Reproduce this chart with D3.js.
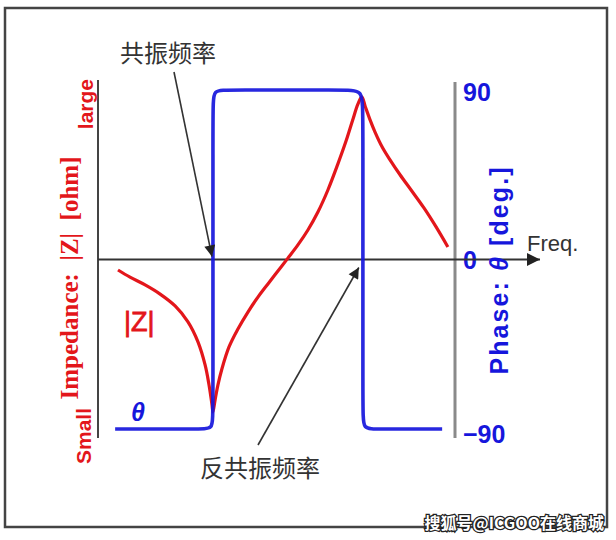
<!DOCTYPE html>
<html lang="zh">
  <head>
    <meta charset="utf-8">
    <title>Impedance / Phase vs Frequency</title>
    <script src="https://cdnjs.cloudflare.com/ajax/libs/d3/7.8.5/d3.min.js"></script>
    <style>
      body { margin: 0; background: #fff; }
      svg { display: block; }
    </style>
  </head>
  <body>
    <div id="chart"></div>

    <script type="text/javascript">

    // |Z| curve (freq in relative units 0..100, |Z| relative 0..100)
    const freqZ = [5.6, 8.96, 13.2, 17.4, 21.6, 25.2, 28.0, 30.0, 31.1, 31.9, 32.2,
                   32.8, 33.6, 34.7, 36.7, 39.2, 42.0, 44.8, 47.6, 50.4, 53.2, 56.0, 58.8,
                   61.6, 64.4, 67.2, 69.5, 71.3, 72.8, 73.9,
                   74.9, 76.1, 77.6, 79.6, 81.8, 84.6, 87.9, 91.3, 94.7, 98.0];
    const impedance = [46.9, 44.8, 42.5, 39.8, 36.3, 31.6, 25.7, 18.9, 13.0, 7.4, 5.0,
                       8.6, 13.0, 17.7, 24.2, 29.5, 34.5, 38.9, 42.8, 46.6, 50.4, 54.3, 58.7,
                       64.0, 70.5, 78.2, 85.0, 91.0, 95.8, 98.0,
                       95.0, 91.5, 87.6, 83.2, 79.4, 75.0, 70.2, 65.2, 59.6, 53.7];

    // phase curve corners (deg)
    const freqP = [4.8, 28.3, 32.2, 32.2, 32.2, 32.2, 36.6, 69.0, 74.2, 74.2, 74.2, 74.2, 78.2, 96.4];
    const phase = [-90, -90, -90, -83, 82, 90, 90, 90, 90, 79, -82, -90, -90, -90];

    const phaseTicks = [90, 0, -90];

    // marked frequencies (resonance / anti-resonance)
    const markFreq = [32.2, 73.9];
    const markText = ['共振频率', '反共振频率'];

    const w = 616, h = 540;
    const red = '#e3161b', blue = '#1616dc';

    const svg = d3.select('#chart').append('svg')
                  .attr('width', w)
                  .attr('height', h);

    // frame
    svg.append('rect')
       .attr('x', 5).attr('y', 8)
       .attr('width', 602).attr('height', 519)
       .attr('fill', '#fff')
       .attr('stroke', '#444')
       .attr('stroke-width', 2.5);

    const xScale = d3.scaleLinear().domain([0, 100]).range([98, 455]);
    const yPhase = d3.scaleLinear().domain([-90, 90]).range([429, 90]);
    const yZ = d3.scaleLinear().domain([0, 100]).range([429, 90]);

    const y0 = yPhase(0);

    // left axis line
    svg.append('line')
       .attr('x1', xScale(0)).attr('x2', xScale(0))
       .attr('y1', yPhase(90) - 10).attr('y2', yPhase(-90) + 9)
       .attr('stroke', '#444').attr('stroke-width', 2);

    // right (phase) axis
    svg.append('line')
       .attr('x1', xScale(100)).attr('x2', xScale(100))
       .attr('y1', yPhase(90) - 8).attr('y2', yPhase(-90) + 9)
       .attr('stroke', '#8a8a8a').attr('stroke-width', 3);

    const pAxis = svg.append('g')
       .attr('transform', 'translate(' + xScale(100) + ',0)')
       .call(d3.axisRight(yPhase).tickValues(phaseTicks).tickSize(0).tickPadding(8));
    pAxis.select('.domain').remove();
    pAxis.selectAll('text')
       .attr('fill', blue)
       .attr('font-family', 'Liberation Sans, Arial, sans-serif')
       .attr('font-weight', 'bold')
       .attr('font-size', 25)
       .attr('dy', (d) => d === -90 ? '0.55em' : d === 90 ? '0.42em' : '0.36em');

    // freq axis with arrow
    svg.append('defs').append('marker')
       .attr('id', 'arr')
       .attr('viewBox', '0 0 10 10')
       .attr('refX', 10).attr('refY', 5)
       .attr('markerWidth', 16).attr('markerHeight', 13)
       .attr('markerUnits', 'userSpaceOnUse')
       .attr('orient', 'auto')
       .append('path').attr('d', 'M0,0 L10,5 L0,10 z').attr('fill', '#222');

    svg.append('line')
       .attr('x1', xScale(0)).attr('x2', 540)
       .attr('y1', y0).attr('y2', y0)
       .attr('stroke', '#333').attr('stroke-width', 2)
       .attr('marker-end', 'url(#arr)');

    svg.append('text')
       .attr('x', 527).attr('y', 251)
       .attr('font-family', 'Liberation Sans, Arial, sans-serif')
       .attr('font-size', 22)
       .attr('fill', '#333')
       .text('Freq.');

    // curves
    const zLine = d3.line()
        .x((d, i) => xScale(freqZ[i]))
        .y((d) => yZ(d))
        .curve(d3.curveCatmullRom.alpha(0.5));

    svg.append('path')
       .datum(impedance)
       .attr('d', zLine)
       .attr('fill', 'none')
       .attr('stroke', red)
       .attr('stroke-width', 3.2);

    const pLine = d3.line()
        .x((d, i) => xScale(freqP[i]))
        .y((d) => yPhase(d))
        .curve(d3.curveBasis);

    svg.append('path')
       .datum(phase)
       .attr('d', pLine)
       .attr('fill', 'none')
       .attr('stroke', blue)
       .attr('stroke-width', 3.6)
       .attr('stroke-opacity', 0.92);

    // annotation arrows
    svg.append('defs').append('marker')
       .attr('id', 'arr2')
       .attr('viewBox', '0 0 10 10')
       .attr('refX', 10).attr('refY', 5)
       .attr('markerWidth', 15).attr('markerHeight', 11)
       .attr('markerUnits', 'userSpaceOnUse')
       .attr('orient', 'auto')
       .append('path').attr('d', 'M0,0 L10,5 L0,10 z').attr('fill', '#222');

    svg.append('line')
       .attr('x1', 174).attr('y1', 72)
       .attr('x2', xScale(markFreq[0]) - 1).attr('y2', y0 - 3)
       .attr('stroke', '#333').attr('stroke-width', 1.6)
       .attr('marker-end', 'url(#arr2)');

    svg.append('line')
       .attr('x1', 258).attr('y1', 445)
       .attr('x2', xScale(markFreq[1]) - 3).attr('y2', y0 + 8)
       .attr('stroke', '#333').attr('stroke-width', 1.6)
       .attr('marker-end', 'url(#arr2)');

    svg.append('text')
       .attr('x', 168).attr('y', 62)
       .attr('text-anchor', 'middle')
       .attr('font-family', 'Noto Sans CJK SC, sans-serif')
       .attr('font-size', 24)
       .attr('fill', '#333')
       .text(markText[0]);

    svg.append('text')
       .attr('x', 260).attr('y', 477)
       .attr('text-anchor', 'middle')
       .attr('font-family', 'Noto Sans CJK SC, sans-serif')
       .attr('font-size', 24)
       .attr('fill', '#333')
       .text(markText[1]);

    // curve labels
    svg.append('text')
       .attr('x', 124).attr('y', 331)
       .attr('font-family', 'Liberation Sans, Arial, sans-serif')
       .attr('font-size', 27)
       .attr('fill', red)
       .attr('stroke', red)
       .attr('stroke-width', 0.8)
       .text('|Z|');

    svg.append('text')
       .attr('x', 131).attr('y', 421)
       .attr('font-family', 'Liberation Sans, Arial, sans-serif')
       .attr('font-style', 'italic')
       .attr('font-weight', 'bold')
       .attr('font-size', 25)
       .attr('fill', blue)
       .text('θ');

    // left (impedance) label
    svg.append('text')
       .attr('transform', 'translate(78,278) rotate(-90)')
       .attr('text-anchor', 'middle')
       .attr('font-family', 'Liberation Serif, Times New Roman, serif')
       .attr('font-weight', 'bold')
       .attr('font-size', 25)
       .attr('fill', red)
       .style('white-space', 'pre')
       .text('Impedance:  |Z|  [ohm]');

    svg.append('text')
       .attr('transform', 'translate(91,464) rotate(-90)')
       .attr('text-anchor', 'start')
       .attr('font-family', 'Liberation Sans, Arial, sans-serif')
       .attr('font-weight', 'bold')
       .attr('font-size', 21)
       .attr('fill', red)
       .text('Small');

    svg.append('text')
       .attr('transform', 'translate(93,79) rotate(-90)')
       .attr('text-anchor', 'end')
       .attr('font-family', 'Liberation Sans, Arial, sans-serif')
       .attr('font-weight', 'bold')
       .attr('font-size', 21)
       .attr('fill', red)
       .text('large');

    // right (phase) label
    const pl = svg.append('text')
       .attr('transform', 'translate(508,271) rotate(-90)')
       .attr('text-anchor', 'middle')
       .attr('font-family', 'Liberation Sans, Arial, sans-serif')
       .attr('font-weight', 'bold')
       .attr('font-size', 25)
       .attr('fill', blue)
       .attr('textLength', 207)
       .attr('lengthAdjust', 'spacing');
    pl.append('tspan').text('Phase: ');
    pl.append('tspan').attr('font-style', 'italic').text('θ');
    pl.append('tspan').text(' [deg.]');

    // watermark
    svg.append('text')
       .attr('x', 604).attr('y', 529)
       .attr('text-anchor', 'end')
       .attr('font-family', 'Noto Sans CJK SC, sans-serif')
       .attr('font-weight', 'bold')
       .attr('font-size', 16)
       .attr('fill', '#fff')
       .attr('stroke', '#222')
       .attr('stroke-width', 2.5)
       .attr('paint-order', 'stroke')
       .text('搜狐号@ICGOO在线商城');

    </script>
  </body>
</html>
